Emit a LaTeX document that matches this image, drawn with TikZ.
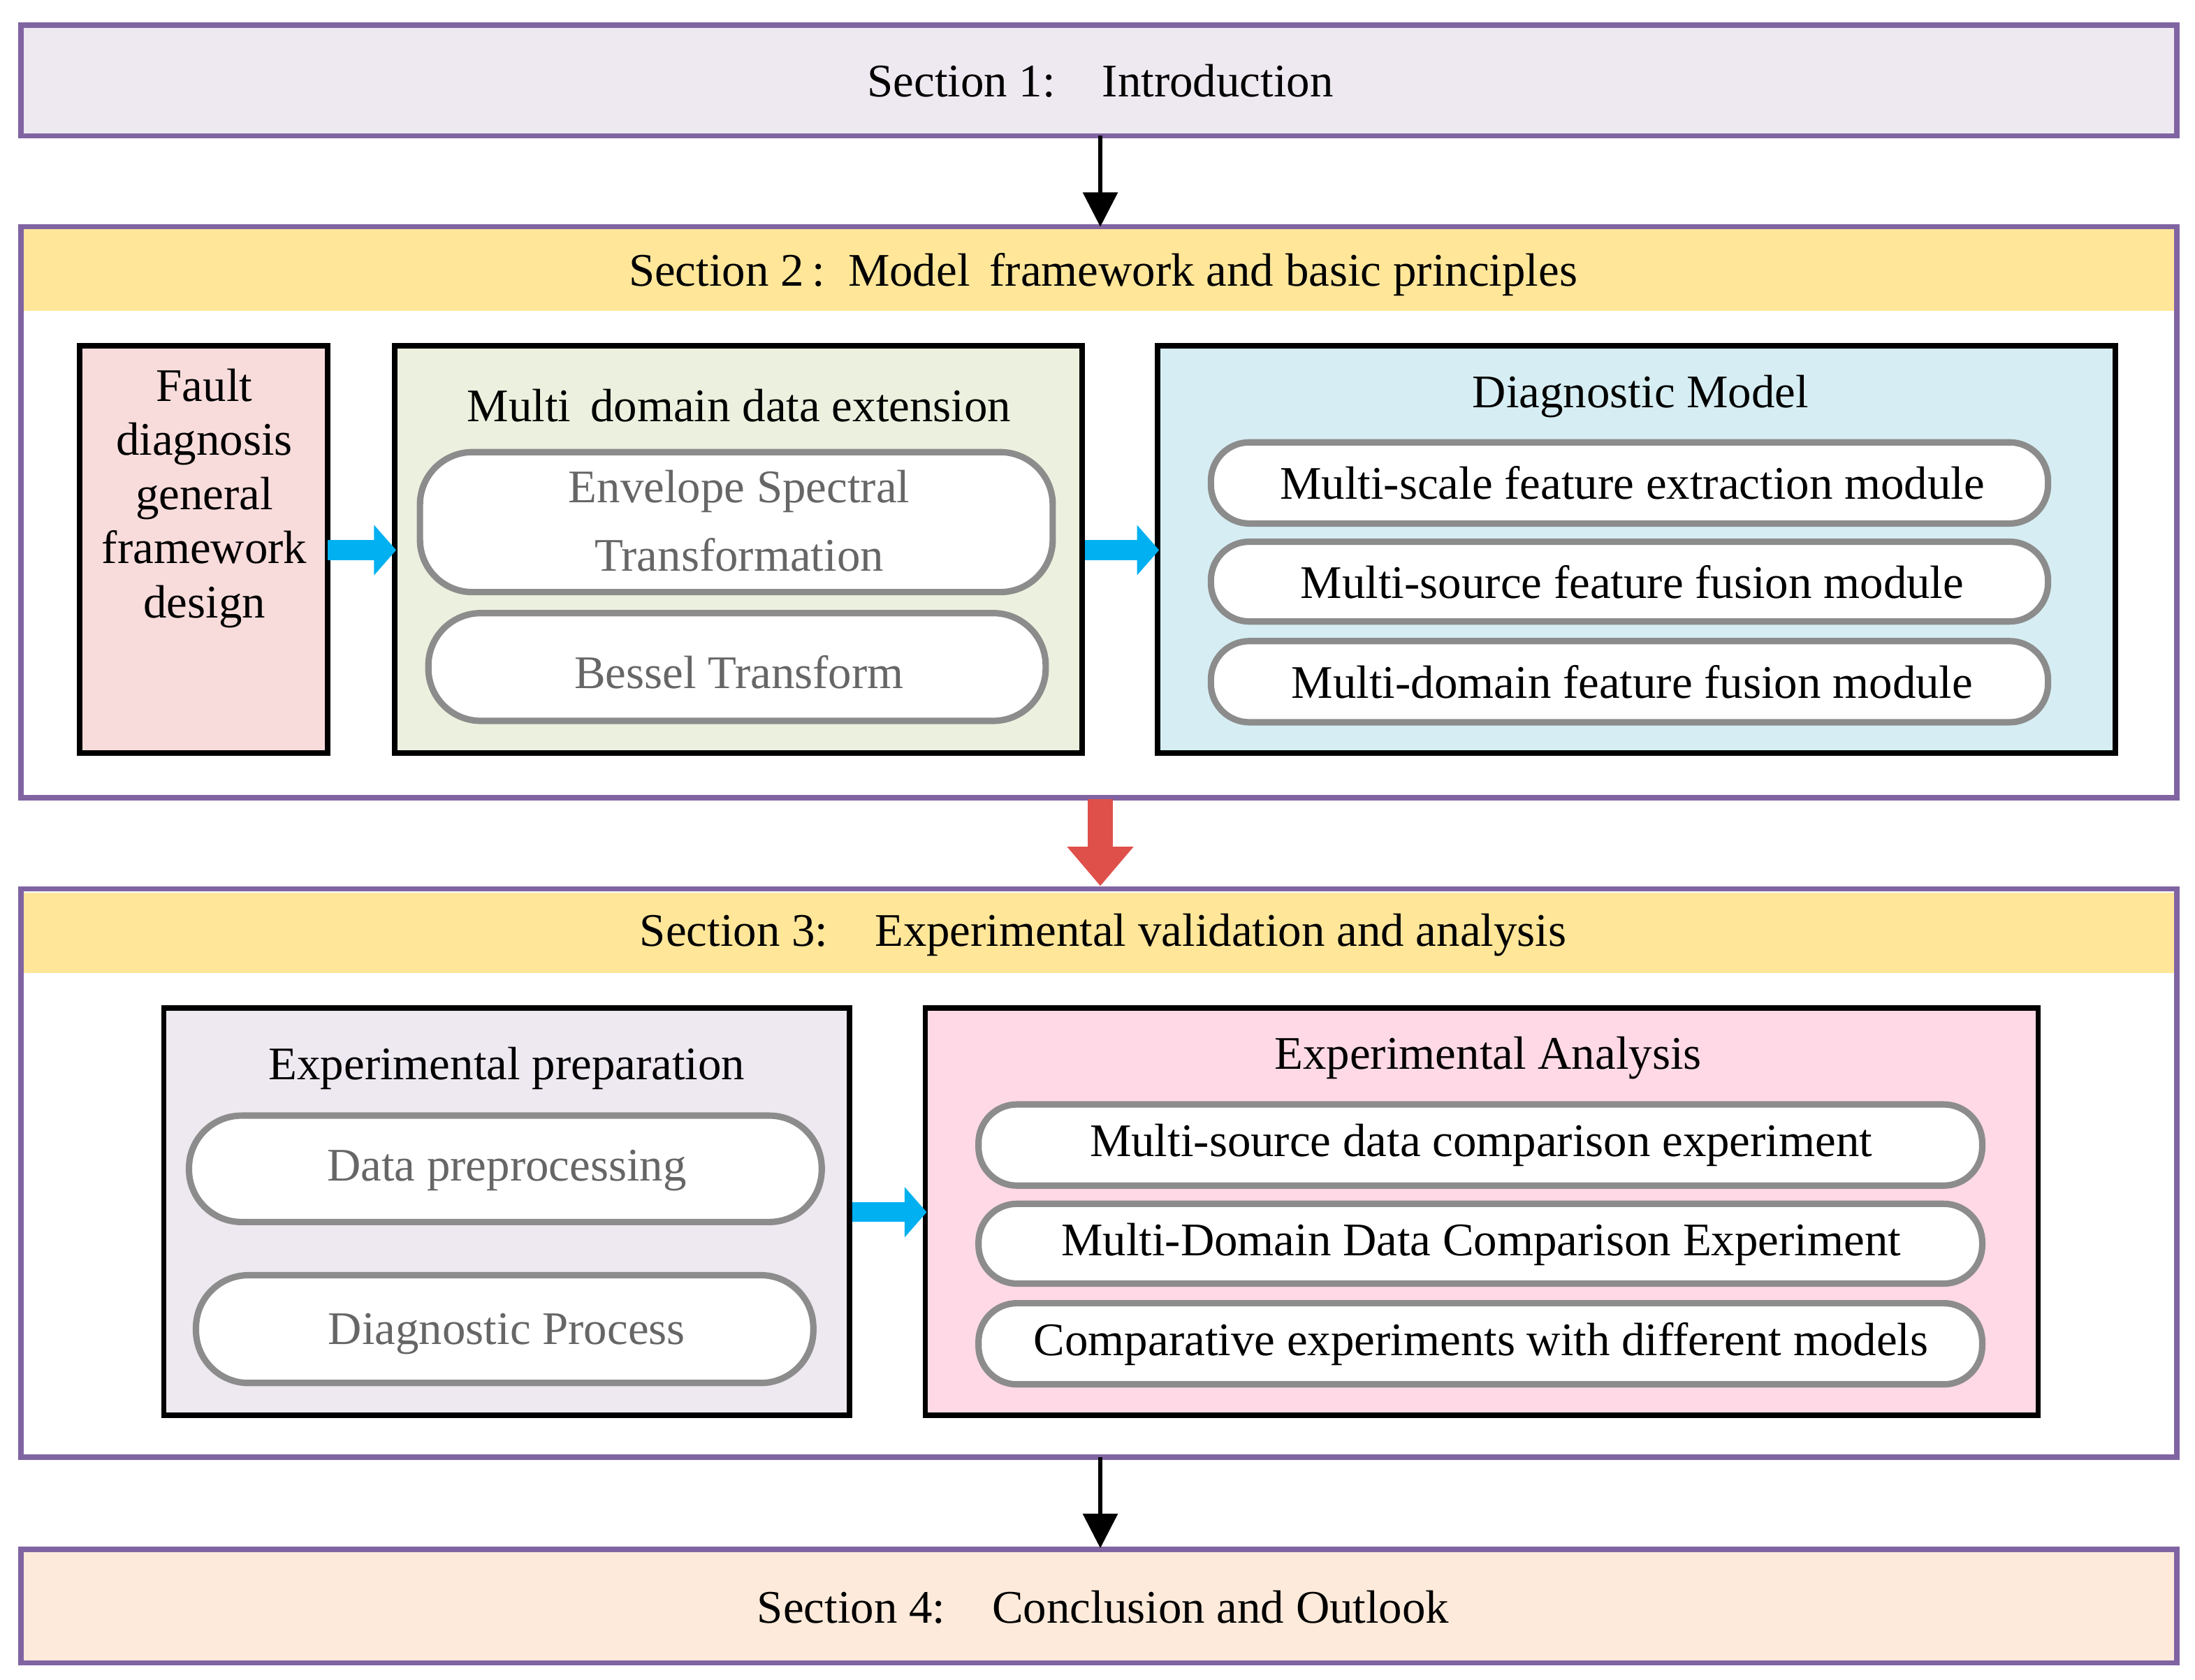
\documentclass[tikz,border=0pt]{standalone}
\usepackage{fontspec}
\setmainfont{Liberation Serif}
\usetikzlibrary{arrows.meta}
\definecolor{frame}{HTML}{8064A2}
\definecolor{lav}{HTML}{EEE8F0}
\definecolor{band}{HTML}{FFE699}
\definecolor{rosy}{HTML}{F8DCDB}
\definecolor{olive}{HTML}{EBF1DE}
\definecolor{aqua}{HTML}{D6EEF3}
\definecolor{pinky}{HTML}{FFD9E6}
\definecolor{peach}{HTML}{FDEADA}
\definecolor{sky}{HTML}{00B0F0}
\definecolor{brick}{HTML}{E0504A}
\tikzset{
  sect/.style={draw=frame, line width=2.2pt},
  inner/.style={draw=black, line width=2.2pt},
  pill/.style={draw=gray!90, line width=2.6pt, fill=white, rounded corners=0.75cm},
  txt/.style={inner sep=0pt, font=\fontsize{19}{22}\selectfont},
  gtxt/.style={txt, text=black!60},
  blue/.style={draw=sky, line width=8pt, -{Triangle[length=9pt,width=20pt]}},
  down/.style={draw=black, line width=1.5pt, -{Triangle[length=14pt,width=14pt]}},
}
\begin{document}
\begin{tikzpicture}[x=0.02cm,y=-0.02cm]
\useasboundingbox (0,0) rectangle (1568,1200);
% section 1
\draw [sect, fill=lav] (15,18) rectangle (1555,97);
\node [txt] (s1) at (786,58) {Section 1:\quad Introduction};
% section 2
\fill [band] (15,163) rectangle (1555,222);
\draw [sect] (15,162) rectangle (1555,570);
\node [txt] (s2) at (788,196) {Section 2\,:\enspace Model\, framework and basic principles};
\draw [inner, fill=rosy] (57,247) rectangle (234,538);
\node [txt, align=center] (fault) at (146,356) {Fault\\diagnosis\\general\\framework\\design};
\draw [inner, fill=olive] (282,247) rectangle (773,538);
\node [txt] (multi) at (528,290) {Multi\, domain data extension};
\draw [pill] (300,323) rectangle (752,423);
\node [gtxt, align=center, font=\fontsize{19}{28}\selectfont] (env) at (528,372) {Envelope Spectral\\Transformation};
\draw [pill] (306,438) rectangle (747,515);
\node [gtxt] (bes) at (528,480) {Bessel Transform};
\draw [inner, fill=aqua] (827,247) rectangle (1511,538);
\node [txt] (diag) at (1172,283) {Diagnostic Model};
\draw [pill, rounded corners=0.55cm] (865,316) rectangle (1463,374);
\node [txt] (m1) at (1166,345) {Multi-scale feature extraction module};
\draw [pill, rounded corners=0.55cm] (865,387) rectangle (1463,444);
\node [txt] (m2) at (1166,416) {Multi-source feature fusion module};
\draw [pill, rounded corners=0.55cm] (865,458) rectangle (1463,516);
\node [txt] (m3) at (1166,487) {Multi-domain feature fusion module};
\coordinate (b1) at (234,393); \coordinate (b2) at (283,393);
\coordinate (b3) at (775,393); \coordinate (b4) at (828,393);
\draw [blue] (b1) -- (b2);
\draw [blue] (b3) -- (b4);
% section 3
\fill [band] (15,638) rectangle (1555,695);
\draw [sect] (15,635) rectangle (1555,1041);
\node [txt] (s3) at (788,668) {Section 3:\quad Experimental validation and analysis};
\draw [inner, fill=lav] (117,720) rectangle (607,1011);
\node [txt] (prep) at (362,763) {Experimental preparation};
\draw [pill] (135,797) rectangle (587,873);
\node [gtxt] (pre) at (362,836) {Data preprocessing};
\draw [pill] (140,911) rectangle (581,988);
\node [gtxt] (proc) at (362,953) {Diagnostic Process};
\draw [inner, fill=pinky] (661,720) rectangle (1456,1011);
\node [txt] (ana) at (1063,756) {Experimental Analysis};
\draw [pill, rounded corners=0.55cm] (699,789) rectangle (1416,847);
\node [txt] (e1) at (1058,818) {Multi-source data comparison experiment};
\draw [pill, rounded corners=0.55cm] (699,860) rectangle (1416,917);
\node [txt] (e2) at (1058,889) {Multi-Domain Data Comparison Experiment};
\draw [pill, rounded corners=0.55cm] (699,931) rectangle (1416,989);
\node [txt] (e3) at (1058,960) {Comparative experiments with different models};
\coordinate (b5) at (609,866); \coordinate (b6) at (662,866);
\draw [blue] (b5) -- (b6);
% section 4
\draw [sect, fill=peach] (15,1107) rectangle (1555,1188);
\node [txt] (s4) at (788,1148) {Section 4:\quad Conclusion and Outlook};
% connectors
\coordinate (a1) at (786,97); \coordinate (a2) at (786,162);
\coordinate (r1) at (786,571); \coordinate (r2) at (786,633);
\coordinate (a3) at (786,1041); \coordinate (a4) at (786,1106);
\draw [down] (a1) -- (a2);
\draw [draw=brick, line width=10pt, -{Triangle[length=16pt,width=26pt]}] (r1) -- (r2);
\draw [down] (a3) -- (a4);
\end{tikzpicture}
\end{document}
